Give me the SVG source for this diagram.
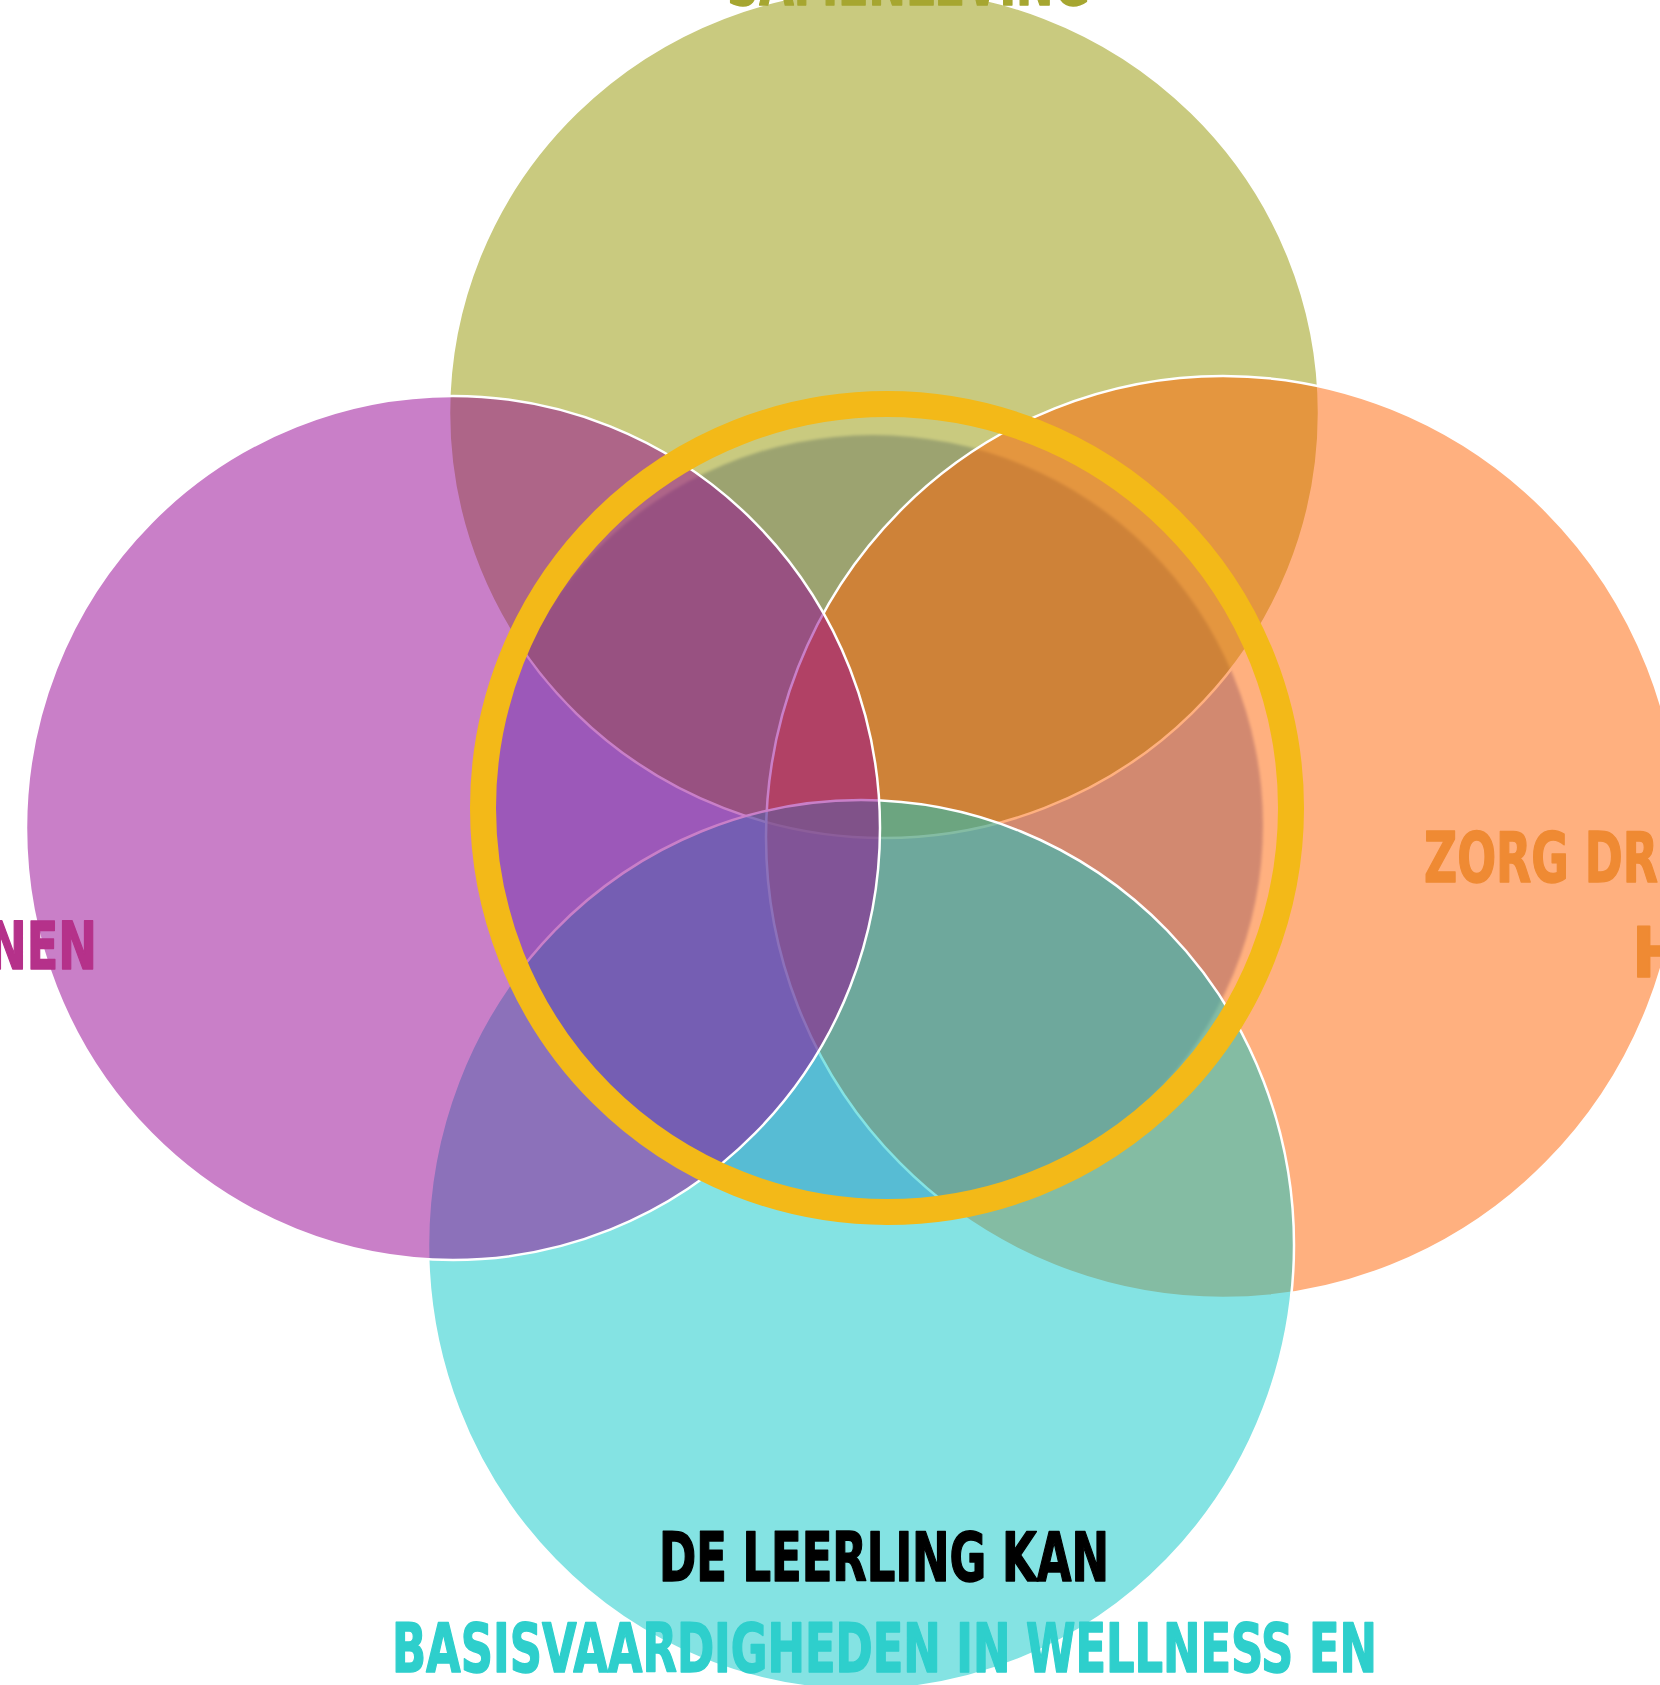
<svg xmlns="http://www.w3.org/2000/svg" width="1660" height="1685" viewBox="0 0 1660 1685">
  <style>
    .petal { fill-opacity: 0.5; stroke: #ffffff; stroke-width: 2.5; }
    .lbl { font-family: "Liberation Sans Narrow", "DejaVu Sans Condensed", "Liberation Sans", sans-serif; font-weight: bold; stroke-width: 1.5; stroke-linejoin: round; }
  </style>
  <defs>
    <filter id="soft" x="-5%" y="-5%" width="110%" height="110%">
      <feGaussianBlur stdDeviation="1.5"/>
    </filter>
  </defs>
  <rect x="0" y="0" width="1660" height="1685" fill="#ffffff"/>

  <g id="core-shadow">
    <circle cx="873" cy="825" r="390" fill="#a5b1e1" filter="url(#soft)"/>
  </g>

  <g id="node-samenleving">
    <ellipse class="petal" cx="884" cy="413" rx="435" ry="425" fill="#939500"/>
  </g>
  <g id="node-zorg">
    <ellipse class="petal" cx="1223" cy="837" rx="457" ry="461" fill="#ff6100"/>
  </g>
  <g id="node-basis">
    <ellipse class="petal" cx="861" cy="1245" rx="433" ry="445" fill="#09c7c7"/>
  </g>
  <g id="node-links">
    <ellipse class="petal" cx="453" cy="828" rx="427" ry="432" fill="#930091"/>
  </g>

  <g id="node-center">
    <circle cx="887" cy="808" r="404" fill="none" stroke="#f3b918" stroke-width="26"/>
  </g>

  <g id="connectors"></g>

  <g id="labels">
    <text class="lbl" x="727" y="5" font-size="68" fill="#a6a630" stroke="#a6a630" textLength="363" lengthAdjust="spacingAndGlyphs">SAMENLEVING</text>
    <text class="lbl" x="-12" y="969" font-size="66" fill="#b5318a" stroke="#b5318a" textLength="109" lengthAdjust="spacingAndGlyphs">NEN</text>
    <text class="lbl" x="1424" y="882" font-size="70" fill="#ef8a33" stroke="#ef8a33" textLength="234" lengthAdjust="spacingAndGlyphs">ZORG DR</text>
    <text class="lbl" x="1632" y="977" font-size="70" fill="#ef8a33" stroke="#ef8a33">H</text>
    <text class="lbl" x="659" y="1581" font-size="68" fill="#000000" stroke="#000000" textLength="450" lengthAdjust="spacingAndGlyphs">DE LEERLING KAN</text>
    <text class="lbl" x="392" y="1672" font-size="67" fill="#2ecfcc" stroke="#2ecfcc" textLength="985" lengthAdjust="spacingAndGlyphs">BASISVAARDIGHEDEN IN WELLNESS EN</text>
  </g>
</svg>
